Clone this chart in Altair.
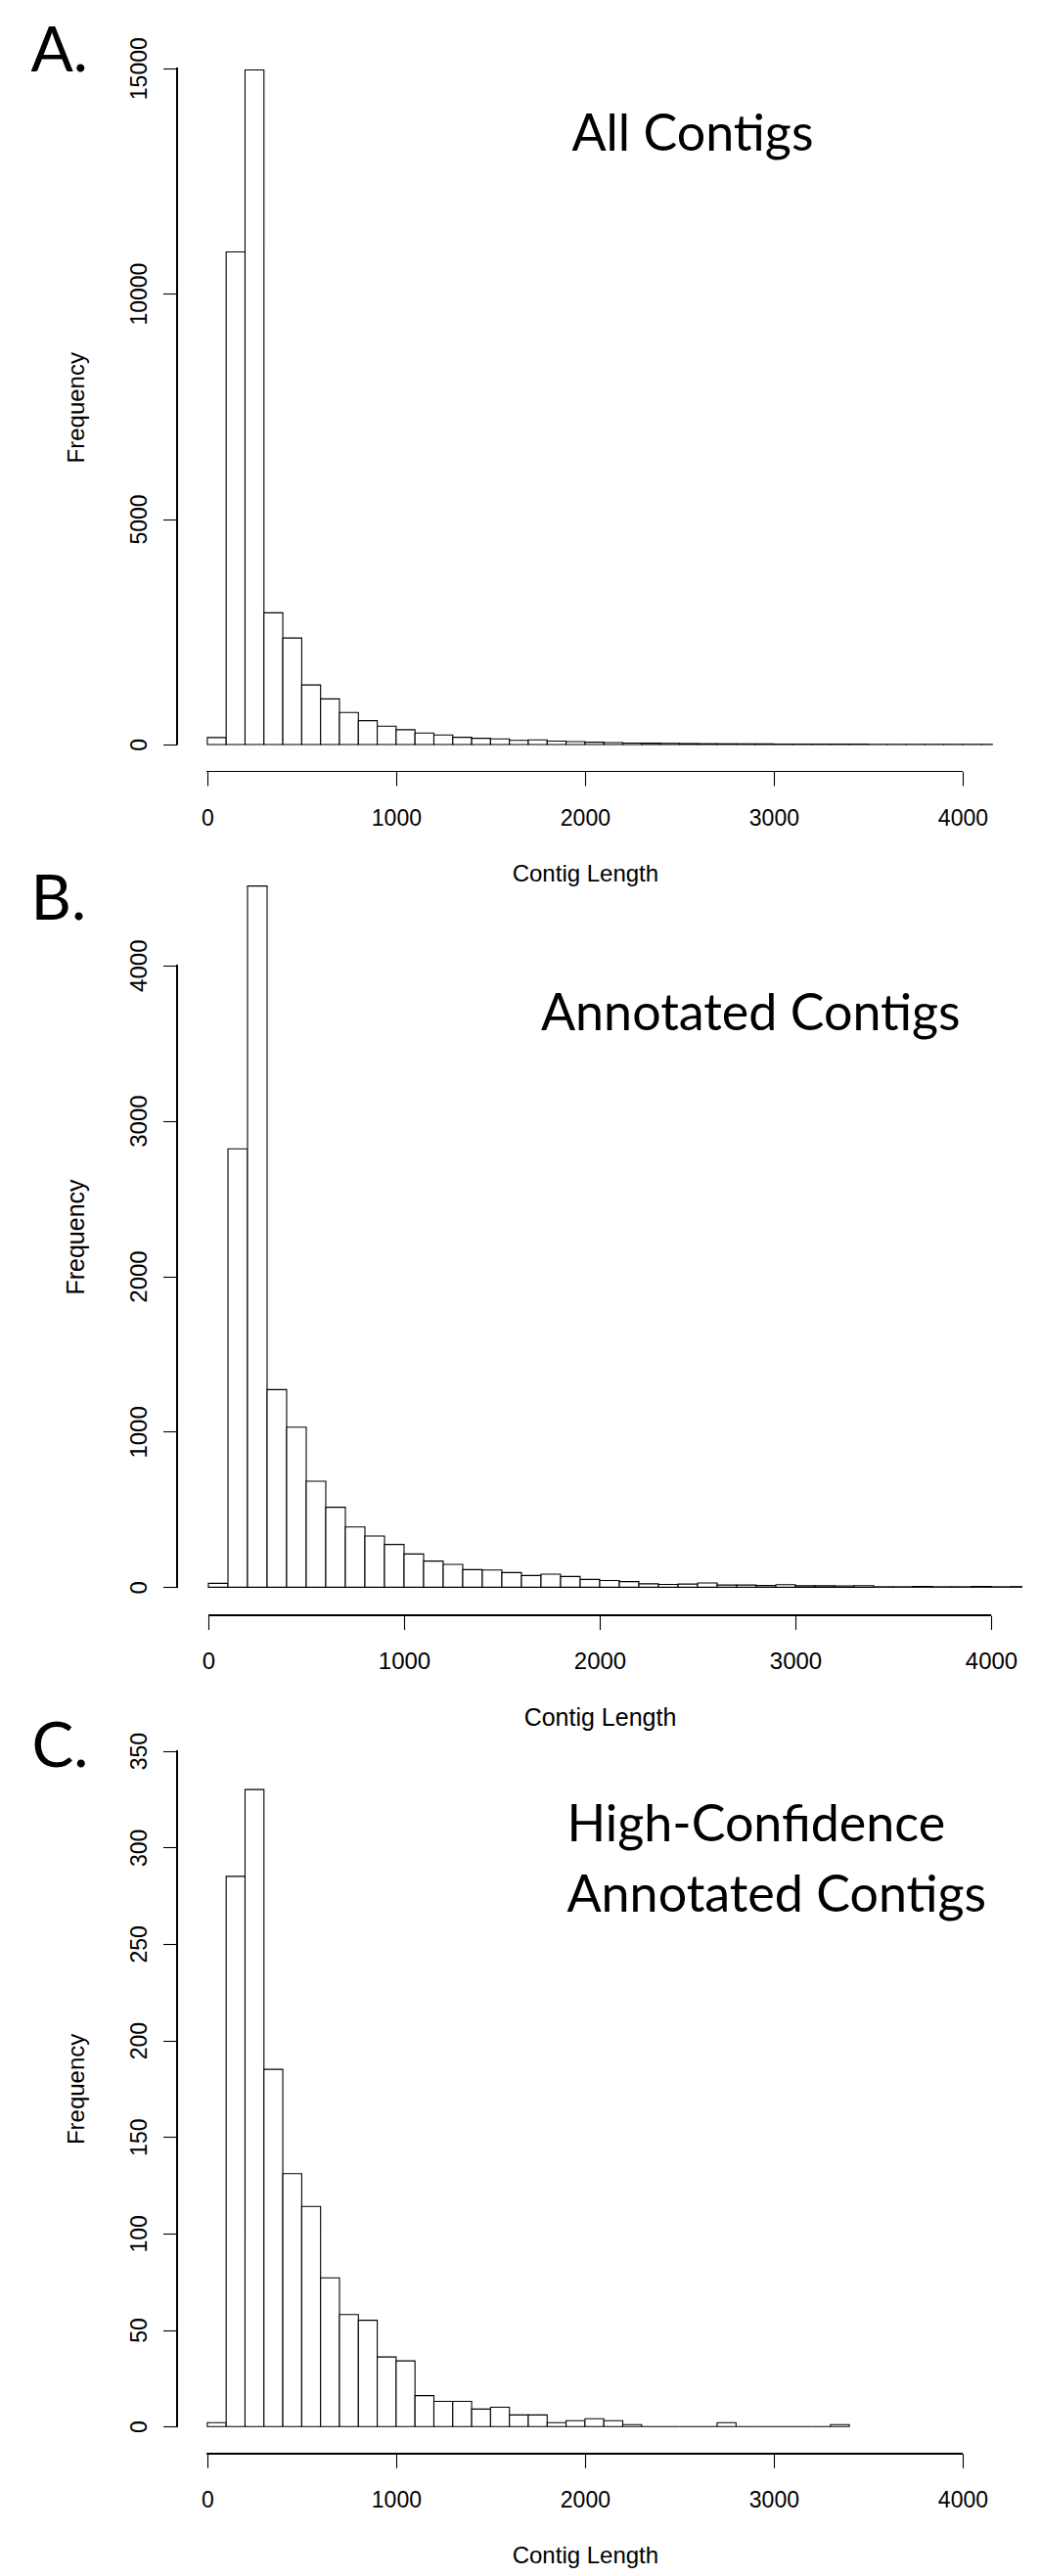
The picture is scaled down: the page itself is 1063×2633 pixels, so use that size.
import altair as alt
import pandas as pd

BIN_WIDTH = 100

# Frequencies per 100-bp bin, starting at 0
counts_all = [152, 10923, 14959, 2920, 2361, 1320, 1010, 709, 528, 405,
              326, 253, 210, 159, 137, 123, 90, 100, 75, 62,
              50, 42, 32, 28, 24, 20, 17, 15, 14, 11,
              10, 9, 8, 7, 6, 5, 5, 4, 4, 3,
              3, 3]
counts_annot = [25, 2820, 4510, 1271, 1029, 682, 514, 388, 329, 275,
                214, 168, 147, 113, 111, 94, 75, 84, 69, 50,
                43, 36, 22, 18, 20, 27, 14, 14, 11, 16,
                9, 9, 8, 10, 3, 3, 5, 3, 3, 5,
                3, 4]
counts_hc = [2, 285, 330, 185, 131, 114, 77, 58, 55, 36,
             34, 16, 13, 13, 9, 10, 6, 6, 2, 3,
             4, 3, 1, 0, 0, 0, 0, 2, 0, 0,
             0, 0, 0, 1]

x_ticks = [0, 1000, 2000, 3000, 4000]
y_ticks_all = [0, 5000, 10000, 15000]
y_ticks_annot = [0, 1000, 2000, 3000, 4000]
y_ticks_hc = [0, 50, 100, 150, 200, 250, 300, 350]

AXIS_FONT = "Liberation Sans"
LABEL_FONT = "Lato"
LW = 1.1


def make_df(counts):
    starts = [i * BIN_WIDTH for i in range(len(counts))]
    return pd.DataFrame({"start": starts,
                         "end": [s + BIN_WIDTH for s in starts],
                         "count": counts})


def panel(counts, y_ticks, ylim, width, height, letter, letter_xy, note, note_xy,
          tick_font=23, title_font=24, anchor=False):
    df = make_df(counts)
    xscale = alt.Scale(domain=[-160, 4160], nice=False, zero=False)
    yscale = alt.Scale(domain=[-0.04 * ylim, 1.04 * ylim], nice=False, zero=False)
    xaxis = alt.Axis(values=x_ticks, format="d", domain=False, grid=False,
                     tickSize=14.5, tickWidth=LW, tickColor="black",
                     labelFont=AXIS_FONT, labelFontSize=tick_font, labelColor="black",
                     labelPadding=40, labelBaseline="alphabetic", labelFlush=False,
                     labelOverlap=False,
                     title="Contig Length", titleFont=AXIS_FONT, titleFontSize=title_font,
                     titleFontWeight="normal", titleColor="black",
                     titleBaseline="alphabetic", titleY=112, titleX=width / 2)
    yaxis = alt.Axis(values=y_ticks, format="d", domain=False, grid=False,
                     tickSize=14.5, tickWidth=LW, tickColor="black",
                     labelFont=AXIS_FONT, labelFontSize=tick_font, labelColor="black",
                     labelAngle=270, labelAlign="center", labelBaseline="alphabetic",
                     labelPadding=17, labelFlush=False, labelOverlap=False,
                     title="Frequency", titleFont=AXIS_FONT, titleFontSize=title_font,
                     titleFontWeight="normal", titleColor="black", titleAngle=270,
                     titleAlign="center", titleBaseline="alphabetic",
                     titleX=-96, titleY=height / 2)

    bars = alt.Chart(df).mark_rect(fill="white", stroke="black", strokeWidth=LW,
                                   clip=True).encode(
        x=alt.X("start:Q", scale=xscale, axis=xaxis),
        x2="end:Q",
        y=alt.Y("count:Q", scale=yscale, axis=yaxis),
        y2=alt.datum(0),
    )
    y_line = alt.Chart(df).mark_rule(color="black", strokeWidth=LW).encode(
        x=alt.value(0), y=alt.datum(y_ticks[0]), y2=alt.datum(y_ticks[-1]))
    x_line = alt.Chart(df).mark_rule(color="black", strokeWidth=LW).encode(
        y=alt.value(height), x=alt.datum(x_ticks[0]), x2=alt.datum(x_ticks[-1]))

    tdf = pd.DataFrame({"letter": [letter], "note": [note]})
    letter_txt = alt.Chart(tdf).mark_text(font=LABEL_FONT, fontSize=64, align="left",
                                          baseline="alphabetic", color="black").encode(
        text="letter:N", x=alt.value(letter_xy[0]), y=alt.value(letter_xy[1]))
    note_txt = alt.Chart(tdf).mark_text(font=LABEL_FONT, fontSize=52, align="left",
                                        baseline="alphabetic", color="black",
                                        lineBreak="\n", lineHeight=72).encode(
        text="note:N", x=alt.value(note_xy[0]), y=alt.value(note_xy[1]))
    layers = [bars, y_line, x_line, letter_txt, note_txt]
    if anchor:
        layers.append(alt.Chart(tdf).mark_rect(opacity=0).encode(
            x=alt.value(-172.5), x2=alt.value(-171.5),
            y=alt.value(-36.0), y2=alt.value(-35.0)))
    return alt.layer(*layers).properties(width=width, height=height)


def spacer(h):
    return alt.Chart(pd.DataFrame({"a": [0]})).mark_point(opacity=0).properties(
        width=10, height=h)


pA = panel(counts_all, y_ticks_all, max(counts_all), 833.8, 744.5, "A.", (-149.5, 28.5),
           "All Contigs", (403.5, 110), anchor=True)
pB = panel(counts_annot, y_ticks_annot, max(counts_annot), 864, 774, "B.",
           (-149.5, 62.5), "Annotated Contigs", (372, 175.5), tick_font=24, title_font=25)
pC = panel(counts_hc, y_ticks_hc, 350, 833.8, 745.8, "C.", (-148.5, 44.3),
           "High-Confidence\nAnnotated Contigs", (398.5, 120.3))

chart = alt.vconcat(pA, spacer(88), pB, spacer(110.2), pC,
                    spacing=0, bounds="flush").properties(
    padding=0, background="white"
).configure_view(stroke=None)

chart.save("out.html", embed_options={"renderer": "svg", "actions": False})
